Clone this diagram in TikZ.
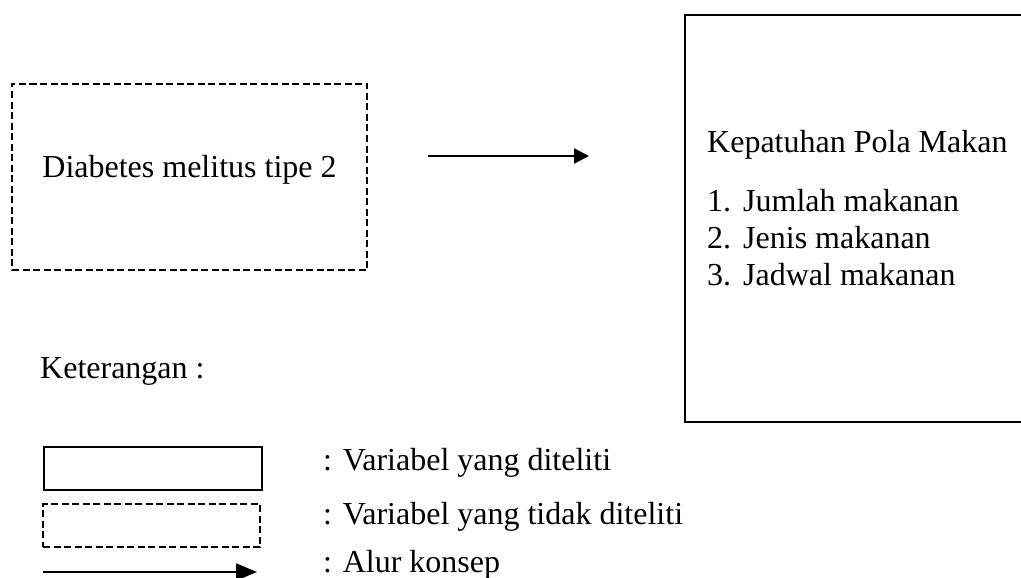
\documentclass[tikz,border=0pt]{standalone}
\usepackage{fontspec}
\setmainfont{Liberation Serif}
\usetikzlibrary{arrows.meta}
\begin{document}
\begin{tikzpicture}[x=1pt,y=-1pt,
  txt/.style={anchor=base west,inner sep=0pt,font=\fontsize{32}{37}\selectfont},
  solidbox/.style={draw,line width=2.8pt,inner sep=0pt},
  dashbox/.style={draw,line width=2.3pt,dash pattern=on 7pt off 3.5pt,inner sep=0pt},
  flow/.style={line width=2.3pt,-{Triangle[length=15pt,width=15pt]}},
  legflow/.style={line width=1.8pt,-{Triangle[length=21pt,width=17pt]}}]
\useasboundingbox (0,0) rectangle (1021,578);
% main boxes
\node[dashbox,minimum width=355pt,minimum height=186pt,text height=10pt,text depth=10pt,
  font=\fontsize{32}{37}\selectfont] (dm) at (189.5,177) {Diabetes melitus tipe 2};
\node[solidbox,minimum width=350pt,minimum height=407pt] (kp) at (860,218.5) {};
\node[txt] (kt) at (707,153) {Kepatuhan Pola Makan};
\node[txt] (n1) at (707,211) {1.};
\node[txt] (i1) at (743,211) {Jumlah makanan};
\node[txt] (n2) at (707,248) {2.};
\node[txt] (i2) at (743,248) {Jenis makanan};
\node[txt] (n3) at (707,285) {3.};
\node[txt] (i3) at (743,285) {Jadwal makanan};
% arrow
\coordinate (a1) at (428,156);
\coordinate (a2) at (589,156);
\draw[flow] (a1) -- (a2);
% legend
\node[txt] (ket) at (40,378) {Keterangan :};
\node[solidbox,minimum width=218pt,minimum height=43pt] (ls) at (153,468.5) {};
\node[dashbox,minimum width=217pt,minimum height=43pt] (ld) at (151.5,525.5) {};
\coordinate (l1) at (43,572);
\coordinate (l2) at (257,572);
\draw[legflow] (l1) -- (l2);
\node[txt] (t1) at (323,470) {: Variabel yang diteliti};
\node[txt] (t2) at (323,524) {: Variabel yang tidak diteliti};
\node[txt] (t3) at (323,572) {: Alur konsep};
\end{tikzpicture}
\end{document}
